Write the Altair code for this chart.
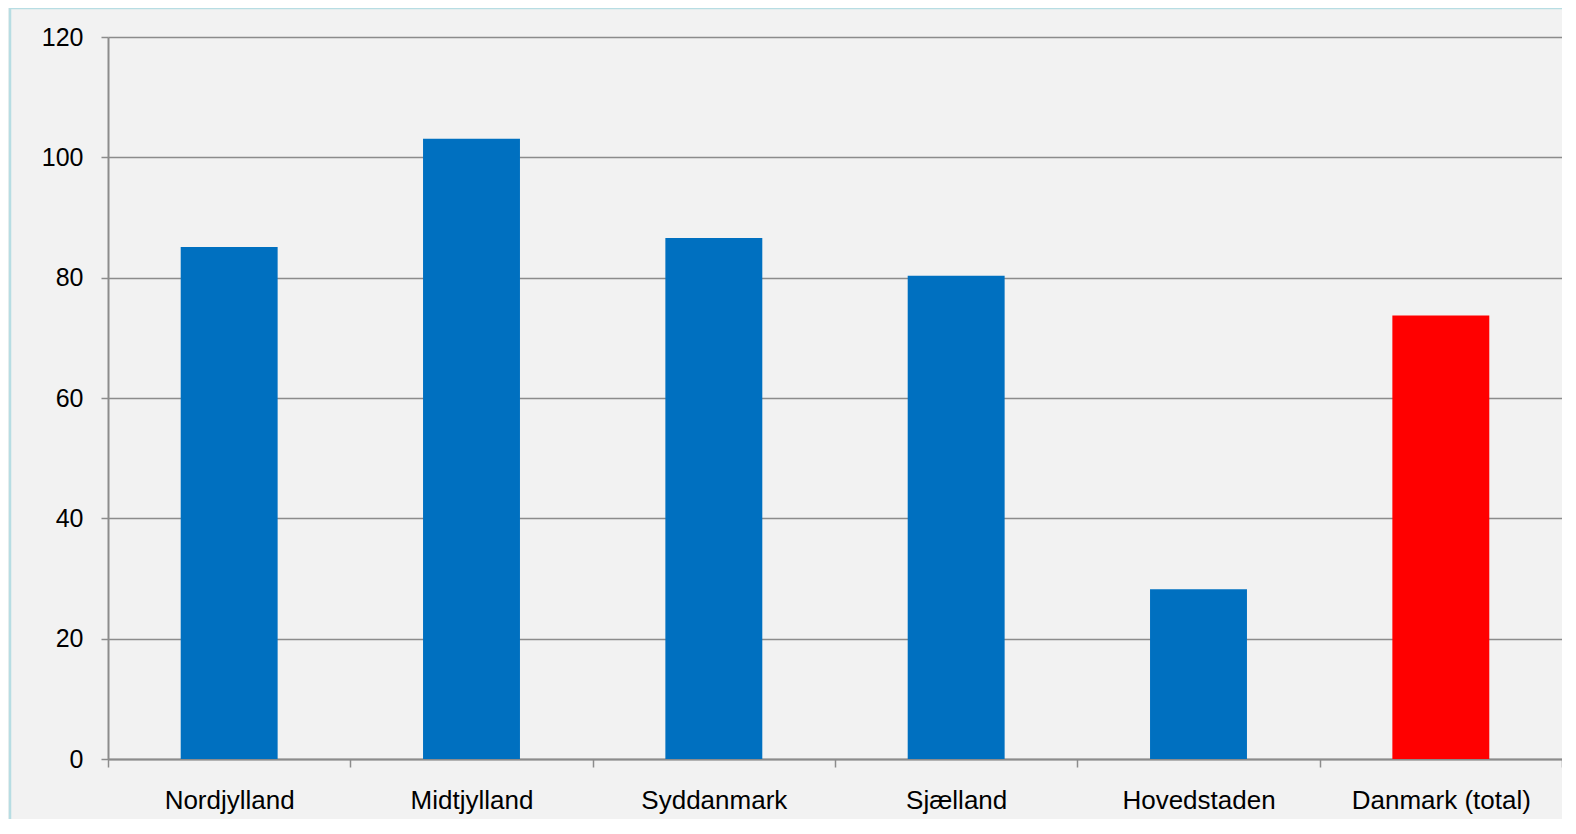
import altair as alt
import pandas as pd

regions = ["Nordjylland", "Midtjylland", "Syddanmark", "Sjælland", "Hovedstaden", "Danmark (total)"]
values = [85.1, 103.1, 86.6, 80.3, 28.2, 73.7]
colors = ["#0070C0", "#0070C0", "#0070C0", "#0070C0", "#0070C0", "#FF0000"]
y_ticks = [0, 20, 40, 60, 80, 100, 120]

df = pd.DataFrame({"region": regions, "value": values, "color": colors})

FONT = "Liberation Sans"
W, H = 1454, 722

bars = alt.Chart(df).mark_bar(width=alt.RelativeBandSize(0.4)).encode(
    x=alt.X(
        "region:N",
        sort=regions,
        scale=alt.Scale(paddingInner=0, paddingOuter=0),
        axis=alt.Axis(
            title=None,
            labelAngle=0,
            labelFont=FONT,
            labelFontSize=26,
            labelColor="#000000",
            labelPadding=20,
            tickBand="extent",
            ticks=True,
            tickSize=8,
            tickColor="#8C8C8C",
            tickWidth=1.5,
            domainColor="#8C8C8C",
            domainWidth=2,
            grid=False,
        ),
    ),
    y=alt.Y(
        "value:Q",
        scale=alt.Scale(domain=[0, 120], nice=False),
        axis=alt.Axis(
            title=None,
            values=y_ticks,
            labelFont=FONT,
            labelFontSize=25,
            labelColor="#000000",
            labelPadding=18,
            tickSize=7,
            tickColor="#8C8C8C",
            tickWidth=1.5,
            domainColor="#8C8C8C",
            domainWidth=2,
            grid=True,
            gridColor="#8C8C8C",
            gridWidth=1.5,
        ),
    ),
    color=alt.Color("color:N", scale=None, legend=None),
)

border = alt.Chart(pd.DataFrame({"a": [0]})).mark_rect(
    fill=None, stroke="#B7DDE3", strokeWidth=2.5
).encode(
    x=alt.value(-98), x2=alt.value(1500), y=alt.value(-29), y2=alt.value(820)
)

chart = alt.layer(border, bars).properties(
    width=W,
    height=H,
    background="#F2F2F2",
    padding={"left": 100, "top": 29, "right": 0, "bottom": 60},
    autosize=alt.AutoSizeParams(type="none"),
).configure_view(stroke=None)

chart.save("out.html", embed_options={"renderer": "svg", "actions": False})
